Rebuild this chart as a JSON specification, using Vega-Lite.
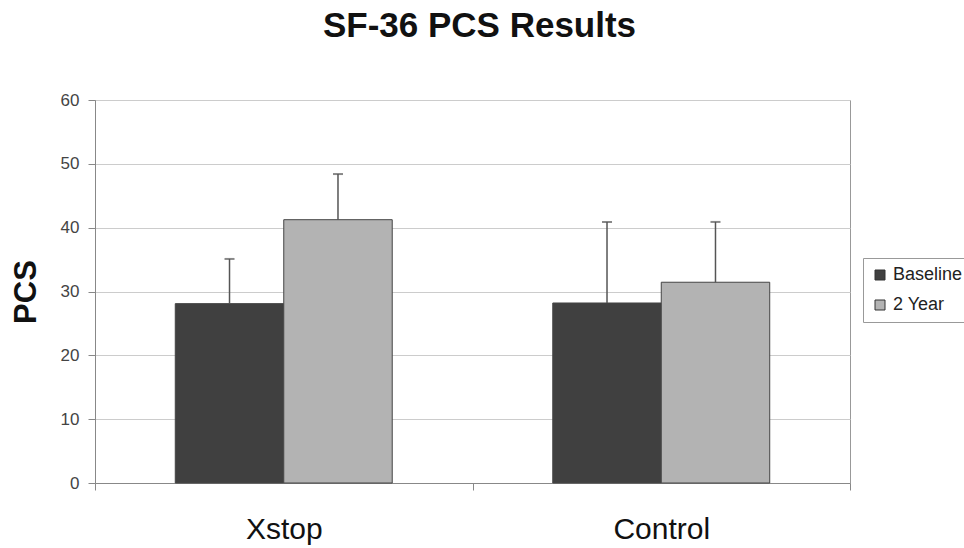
{
  "$schema": "https://vega.github.io/schema/vega-lite/v6.json",
  "width": 755,
  "height": 383,
  "autosize": "none",
  "padding": {"left": 95, "top": 100, "right": 114, "bottom": 65},
  "background": "white",
  "title": {"text": "SF-36 PCS Results", "font": "Liberation Sans", "fontSize": 35, "fontWeight": "bold", "anchor": "middle", "offset": 47, "dx": 7, "color": "#111"},
  "config": {
    "view": {"stroke": "#999", "strokeWidth": 1},
    "font": "Liberation Sans"
  },
  "data": {"values": [
    {"group": "Xstop", "period": "Baseline", "value": 28.1, "upper": 35.1},
    {"group": "Xstop", "period": "2 Year", "value": 41.25, "upper": 48.4},
    {"group": "Control", "period": "Baseline", "value": 28.2, "upper": 40.9},
    {"group": "Control", "period": "2 Year", "value": 31.45, "upper": 40.9}
  ]},
  "encoding": {
    "x": {"field": "group", "type": "nominal", "sort": ["Xstop", "Control"],
      "scale": {"paddingInner": 0, "paddingOuter": 0},
      "axis": {"title": null, "labelAngle": 0, "tickBand": "extent", "labelFontSize": 30, "labelColor": "#111", "labelPadding": 24, "tickSize": 7, "domainColor": "#888", "tickColor": "#888", "grid": false}},
    "xOffset": {"field": "period", "sort": ["Baseline", "2 Year"], "scale": {"paddingOuter": 0.74, "paddingInner": 0}}
  },
  "layer": [
    {
      "mark": {"type": "bar", "stroke": "#444", "strokeWidth": 1},
      "encoding": {
        "y": {"field": "value", "type": "quantitative", "scale": {"domain": [0, 60]},
          "axis": {"title": "PCS", "titleFontSize": 31, "titleFontWeight": "bold", "titleColor": "#111", "titlePadding": 18, "values": [0, 10, 20, 30, 40, 50, 60], "labelFontSize": 17, "labelColor": "#444", "labelPadding": 9, "tickSize": 7, "tickColor": "#888", "domainColor": "#888", "gridColor": "#ccc"}},
        "color": {"field": "period", "type": "nominal", "sort": ["Baseline", "2 Year"],
          "scale": {"domain": ["Baseline", "2 Year"], "range": ["#404040", "#b3b3b3"]},
          "legend": {"title": null, "orient": "none", "legendX": 768, "legendY": 158, "strokeColor": "#999", "fillColor": "white", "padding": 8, "labelFontSize": 18, "labelColor": "#222", "labelOffset": 4, "symbolType": "square", "symbolSize": 100, "symbolStrokeColor": "#333", "symbolStrokeWidth": 1, "rowPadding": 12}}
      }
    },
    {
      "mark": {"type": "rule", "color": "#555", "strokeWidth": 1.5},
      "encoding": {
        "y": {"field": "value", "type": "quantitative"},
        "y2": {"field": "upper"}
      }
    },
    {
      "mark": {"type": "tick", "color": "#555", "thickness": 2, "size": 10, "orient": "horizontal"},
      "encoding": {
        "y": {"field": "upper", "type": "quantitative"}
      }
    }
  ]
}
